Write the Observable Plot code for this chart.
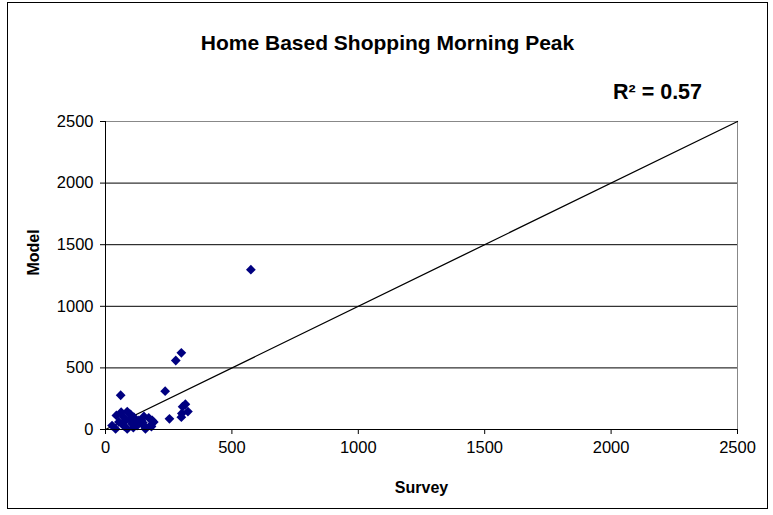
<!DOCTYPE html>
<html>
<head>
<meta charset="utf-8">
<script src="https://cdn.jsdelivr.net/npm/d3@7"></script>
<script src="https://cdn.jsdelivr.net/npm/@observablehq/plot@0.6"></script>
<style>
  body { margin: 0; background: #fff; }
  svg { display: block; }
</style>
</head>
<body>
<div id="chart"></div>
<script>
// Survey counts vs. modelled trips, home-based shopping, AM peak
const survey = [575, 300, 278, 236, 60, 316, 305, 326, 300, 253,
                43, 62, 86, 99, 112, 53, 79, 40, 86, 105,
                132, 152, 171, 185, 158, 178, 191, 125, 66, 26,
                142, 149, 182, 302, 72, 95, 118, 148, 110, 75];
const model  = [1297, 622, 560, 311, 278, 205, 185, 146, 100, 87,
                114, 141, 146, 122, 100, 60, 73, 5, 5, 46,
                73, 106, 95, 73, 5, 32, 60, 32, 46, 32,
                75, 35, 24, 130, 100, 85, 58, 55, 15, 25];

// Line of equality
const refX = [0, 2500];
const refY = [0, 2500];

const xTicks = [0, 500, 1000, 1500, 2000, 2500];
const yTicks = [0, 500, 1000, 1500, 2000, 2500];

const title = "Home Based Shopping Morning Peak";
const fitLabel = "R² = 0.57";
const xLabel = "Survey";
const yLabel = "Model";

const points = survey.map((s, i) => ({survey: s, model: model[i]}));
const refLine = refX.map((x, i) => ({x, y: refY[i]}));

const font = "'Liberation Sans', Arial, Helvetica, sans-serif";
const plain = d => String(d);

const chart = Plot.plot({
  width: 773,
  height: 515,
  marginLeft: 105,
  marginRight: 36,
  marginTop: 121,
  marginBottom: 86,
  style: {fontFamily: font, background: "#fff", overflow: "visible"},
  x: {domain: [0, 2500]},
  y: {domain: [0, 2500]},
  marks: [
    // horizontal gridlines
    Plot.ruleY(yTicks.filter(d => d > 0 && d < 2500), {stroke: "#000", strokeWidth: 1}),
    // plot-area border (top and right)
    Plot.ruleY([2500], {stroke: "#888", strokeWidth: 1}),
    Plot.ruleX([2500], {stroke: "#888", strokeWidth: 1}),
    Plot.line(refLine, {x: "x", y: "y", stroke: "#000", strokeWidth: 1.3}),
    Plot.dot(points, {x: "survey", y: "model", symbol: "diamond2", r: 4.4,
                      fill: "#000080", stroke: "none"}),
    Plot.axisX({ticks: xTicks, tickFormat: plain, tickSize: 5, tickPadding: 7, fontSize: 16.5,
                label: null, stroke: "#000", color: "#000"}),
    Plot.axisY({ticks: yTicks, tickFormat: plain, tickSize: 5, tickPadding: 7, fontSize: 16.5,
                label: null, stroke: "#000", color: "#000"}),
    Plot.ruleX([0], {stroke: "#000", strokeWidth: 1}),
    Plot.ruleY([0], {stroke: "#000", strokeWidth: 1}),
    Plot.text([title], {frameAnchor: "top", dx: -34, dy: -78, fontSize: 21,
                        fontWeight: "bold", fill: "#000", lineAnchor: "middle"}),
    Plot.text([fitLabel], {frameAnchor: "top", dx: 236, dy: -29, fontSize: 21.5,
                           fontWeight: "bold", fill: "#000", lineAnchor: "middle"}),
    Plot.text([xLabel], {frameAnchor: "bottom", dy: 58, fontSize: 16,
                         fontWeight: "bold", fill: "#000", lineAnchor: "middle",
                         letterSpacing: "0.5px"}),
    Plot.text([yLabel], {frameAnchor: "left", dx: -72, rotate: -90, fontSize: 16,
                         fontWeight: "bold", fill: "#000", lineAnchor: "middle"})
  ]
});

// outer chart border
d3.select(chart).append("rect")
  .attr("x", 7.5).attr("y", 2.5).attr("width", 760).attr("height", 506)
  .attr("fill", "none").attr("stroke", "#000").attr("stroke-width", 1);

document.getElementById("chart").appendChild(chart);
</script>
</body>
</html>
